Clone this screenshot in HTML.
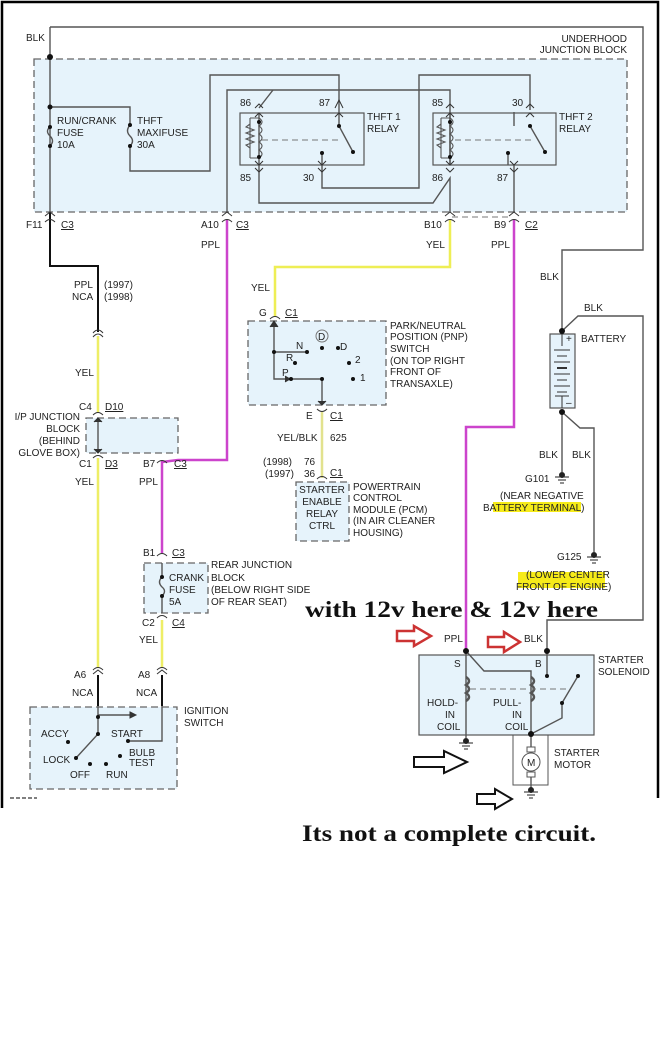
<!DOCTYPE html>
<html><head><meta charset="utf-8"><style>
body{margin:0;background:#fff}
svg{display:block}
text{font-family:"Liberation Sans",sans-serif;font-size:10px;fill:#222}
.u{text-decoration:underline}
.big{font-family:"Liberation Serif",serif;font-weight:bold;font-size:23px;fill:#111}
</style></head><body>
<svg width="660" height="1042" viewBox="0 0 660 1042" xmlns="http://www.w3.org/2000/svg">
<rect width="660" height="1042" fill="#fff"/>
<path d="M2 808 V2 H658 V798" fill="none" stroke="#000" stroke-width="2.5"/>
<line x1="10" y1="798" x2="37" y2="798" stroke="#000" stroke-dasharray="4,2"/>

<g fill="#e6f3fb" stroke="#666" stroke-width="1.3" stroke-dasharray="7,4">
<rect x="34" y="59" width="593" height="153"/>
<rect x="86" y="418" width="92" height="35"/>
<rect x="248" y="321" width="138" height="84"/>
<rect x="296" y="482" width="53" height="59"/>
<rect x="144" y="563" width="64" height="50"/>
<rect x="30" y="707" width="147" height="82"/>
</g>
<g fill="#e6f3fb" stroke="#555" stroke-width="1.2">
<rect x="240" y="113" width="124" height="52"/>
<rect x="433" y="113" width="123" height="52"/>
<rect x="419" y="655" width="175" height="80"/>
<rect x="550" y="334" width="25" height="74"/>
</g>
<rect x="513" y="735" width="35" height="50" fill="none" stroke="#555"/>

<g fill="none" stroke="#555" stroke-width="1.4">
<path d="M50 27 H643 V250 H562 V331"/>
<path d="M50 27 V212"/>
<path d="M50 107 H130 V125"/>
<path d="M130 146 V171 H210 V75 H339 V126"/>
<path d="M227 212 V90 H450 V165"/>
<path d="M273 90 L259 108"/>
<path d="M259 113 V165"/>
<path d="M259 165 V203 H433 L450 178 V212"/>
<path d="M530 110 V75 H419 V188 H322 V153"/>
<path d="M514 126 V112"/>
<path d="M514 165 V212"/>
<path d="M450 113 V165"/>
<path d="M339 126 L353 152"/>
<path d="M530 126 L545 152"/>
<path d="M508 153 V165"/>
<path d="M562 331 L578 316 H643 V620 H547 V676"/>
<path d="M562 412 V472"/>
<path d="M562 412 L580 428 H594 V552"/>
<path d="M466 651 V738"/>
<path d="M466 651 L484 671 H531 V734"/>
<path d="M578 676 L562 703 V718 L531 734 V788"/>
<path d="M274 322 V379 H322 M274 352 H307 M322 379 V405"/>
<path d="M98 706 V734 L76 758 M98 715 H133"/>
<path d="M162 706 V741 H128"/>
<path d="M98 418 V453"/>
<path d="M162 563 V577 M162 596 V613"/>
<path d="M50 127 Q45 131 50 136 Q55 141 50 146"/>
<path d="M130 125 Q125 131 130 136 Q135 141 130 146"/>
<path d="M162 577 Q157 582 162 587 Q167 591 162 596"/>
</g>
<path d="M50 212 V266 H98 V332" fill="none" stroke="#111" stroke-width="2"/>
<path d="M98 675 V706 M162 675 V706" fill="none" stroke="#111" stroke-width="2"/>
<path d="M130 712 L136 715 L130 718Z M94 422 L98 418 L102 422 M94 449 L98 453 L102 449 M270 327 L274 321 L278 327 M318 401 L322 405 L326 401 M285 376 L290 379 L285 382" fill="#333" stroke="#333"/>

<g fill="none" stroke="#555" stroke-width="1.1">
<path d="M259 118 q6 4 0 8 q6 4 0 8 q6 4 0 8 q6 4 0 8 q6 4 0 8"/>
<path d="M250 118 V158 M250 118 H259 M250 158 H259 M250 124 l-4 3 l8 3 l-8 3 l8 3 l-8 3 l8 3 l-8 3 l4 3"/>
<path d="M450 118 q6 4 0 8 q6 4 0 8 q6 4 0 8 q6 4 0 8 q6 4 0 8"/>
<path d="M441 118 V158 M441 118 H450 M441 158 H450 M441 124 l-4 3 l8 3 l-8 3 l8 3 l-8 3 l8 3 l-8 3 l4 3"/>
<path d="M466 677 q6 4 0 8 q6 4 0 8 q6 4 0 8" stroke-width="2.5"/>
<path d="M531 677 q6 4 0 8 q6 4 0 8 q6 4 0 8" stroke-width="2.5"/>
</g>
<g stroke="#777" stroke-dasharray="6,4" fill="none">
<line x1="262" y1="140" x2="340" y2="140"/><line x1="455" y1="140" x2="532" y2="140"/>
<line x1="470" y1="689" x2="566" y2="689"/>
<line x1="452" y1="217" x2="512" y2="217"/>
</g>

<path d="M227 220 V460 H178 L162 462 V553" fill="none" stroke="#cc44cc" stroke-width="2.5"/>
<path d="M514 220 V427 H466 V651" fill="none" stroke="#cc44cc" stroke-width="2.5"/>
<path d="M450 220 V267 H275 V317" fill="none" stroke="#eeee55" stroke-width="2.5"/>
<path d="M98 336 V413 M98 458 V668 M162 620 V668" fill="none" stroke="#eeee66" stroke-width="2.5"/>
<path d="M322 412 V478" fill="none" stroke="#e2e28e" stroke-width="2.5"/>

<g fill="none" stroke="#333" stroke-width="1">
<path d="M45 216 L50 212 L55 216 M45 222 Q50 217 55 222"/>
<path d="M222 216 L227 212 L232 216 M222 222 Q227 217 232 222"/>
<path d="M445 216 L450 212 L455 216 M445 222 Q450 217 455 222"/>
<path d="M509 216 L514 212 L519 216 M509 222 Q514 217 519 222"/>
<path d="M93 333 Q98 327 103 333 M93 337 Q98 331 103 337"/>
<path d="M93 415 Q98 410 103 415 M93 458 Q98 453 103 458"/>
<path d="M157 463 Q162 458 167 463"/>
<path d="M157 556 Q162 551 167 556 M157 618 Q162 613 167 618"/>
<path d="M270 319 Q275 314 280 319 M317 409 Q322 414 327 409"/>
<path d="M317 479 Q322 474 327 479"/>
<path d="M93 670 Q98 665 103 670 M93 674 L98 670 L103 674 M157 670 Q162 665 167 670 M157 674 L162 670 L167 674"/>
<path d="M255 108 L259 104 L263 108 M255 168 L259 172 L263 168 M335 108 L339 100 L343 108 M318 168 L322 172 L326 168 M255 117 L259 113 L263 117 M255 161 L259 165 L263 161 M335 117 L339 113 L343 117 M318 161 L322 165 L326 161"/>
<path d="M446 108 L450 104 L454 108 M446 168 L450 172 L454 168 M526 108 L530 104 L534 108 M510 168 L514 172 L518 168 M446 117 L450 113 L454 117 M446 161 L450 165 L454 161 M526 117 L530 113 L534 117 M510 161 L514 165 L518 161"/>
</g>

<g fill="#111">
<circle cx="50" cy="57" r="3"/><circle cx="50" cy="107" r="2.5"/>
<circle cx="50" cy="127" r="2"/><circle cx="50" cy="146" r="2"/>
<circle cx="130" cy="125" r="2"/><circle cx="130" cy="146" r="2"/>
<circle cx="259" cy="122" r="2"/><circle cx="259" cy="157" r="2"/>
<circle cx="339" cy="126" r="2"/><circle cx="353" cy="152" r="2"/><circle cx="322" cy="153" r="2"/>
<circle cx="450" cy="122" r="2"/><circle cx="450" cy="157" r="2"/>
<circle cx="530" cy="126" r="2"/><circle cx="545" cy="152" r="2"/><circle cx="508" cy="153" r="2"/>
<circle cx="274" cy="352" r="2"/><circle cx="307" cy="352" r="2"/><circle cx="322" cy="348" r="2"/>
<circle cx="338" cy="348" r="2"/><circle cx="295" cy="363" r="2"/><circle cx="349" cy="363" r="2"/>
<circle cx="291" cy="379" r="2"/><circle cx="322" cy="379" r="2"/><circle cx="353" cy="379" r="2"/>
<circle cx="162" cy="577" r="2"/><circle cx="162" cy="596" r="2"/>
<circle cx="98" cy="717" r="2"/><circle cx="98" cy="734" r="2"/><circle cx="68" cy="742" r="2"/>
<circle cx="76" cy="758" r="2"/><circle cx="90" cy="764" r="2"/><circle cx="106" cy="764" r="2"/>
<circle cx="120" cy="756" r="2"/><circle cx="128" cy="741" r="2"/>
<circle cx="562" cy="331" r="3"/><circle cx="562" cy="412" r="3"/>
<circle cx="466" cy="651" r="3"/><circle cx="547" cy="651" r="3"/><circle cx="547" cy="676" r="2"/>
<circle cx="578" cy="676" r="2"/><circle cx="562" cy="703" r="2"/><circle cx="531" cy="734" r="3"/>
</g>
<circle cx="322" cy="336" r="6" fill="none" stroke="#777"/>
<text x="318" y="340" font-size="9">D</text>

<g stroke="#333" stroke-width="1">
<line x1="554" y1="350" x2="570" y2="350"/><line x1="557" y1="356" x2="567" y2="356"/>
<line x1="554" y1="362" x2="570" y2="362"/><line x1="557" y1="368" x2="567" y2="368" stroke-width="2"/>
<line x1="554" y1="374" x2="570" y2="374"/><line x1="557" y1="380" x2="567" y2="380"/>
<line x1="554" y1="386" x2="570" y2="386"/><line x1="557" y1="392" x2="567" y2="392"/>
<line x1="562" y1="334" x2="562" y2="346"/><line x1="562" y1="396" x2="562" y2="408"/>
<line x1="555" y1="396" x2="569" y2="396"/>
</g>
<text x="566" y="342" font-size="8">+</text><text x="566" y="406" font-size="8">–</text>

<g stroke="#222" fill="#222">
<g transform="translate(562,475)"><circle r="2.5"/><line x1="-7" y1="2" x2="7" y2="2"/><line x1="-4" y1="5" x2="4" y2="5"/><line x1="-2" y1="8" x2="2" y2="8"/></g>
<g transform="translate(594,555)"><circle r="2.5"/><line x1="-7" y1="2" x2="7" y2="2"/><line x1="-4" y1="5" x2="4" y2="5"/><line x1="-2" y1="8" x2="2" y2="8"/></g>
<g transform="translate(466,741)"><circle r="2.5"/><line x1="-7" y1="2" x2="7" y2="2"/><line x1="-4" y1="5" x2="4" y2="5"/><line x1="-2" y1="8" x2="2" y2="8"/></g>
<g transform="translate(531,790)"><circle r="2.5"/><line x1="-7" y1="2" x2="7" y2="2"/><line x1="-4" y1="5" x2="4" y2="5"/><line x1="-2" y1="8" x2="2" y2="8"/></g>
</g>
<rect x="527" y="747" width="8" height="5" fill="#fff" stroke="#555"/>
<rect x="527" y="772" width="8" height="5" fill="#fff" stroke="#555"/>
<circle cx="531" cy="762" r="9" fill="#fff" stroke="#555"/>
<text x="527" y="766" font-size="10">M</text>

<rect x="493" y="502" width="88" height="10" fill="#f5e900" opacity="0.9"/>
<rect x="518" y="572" width="87" height="16" fill="#f5e900" opacity="0.9"/>

<text x="26" y="41">BLK</text>
<text x="627" y="42" text-anchor="end">UNDERHOOD</text>
<text x="627" y="53" text-anchor="end">JUNCTION BLOCK</text>
<text x="57" y="124">RUN/CRANK</text><text x="57" y="136">FUSE</text><text x="57" y="148">10A</text>
<text x="137" y="124">THFT</text><text x="137" y="136">MAXIFUSE</text><text x="137" y="148">30A</text>
<text x="240" y="106">86</text><text x="319" y="106">87</text><text x="367" y="120">THFT 1</text><text x="367" y="132">RELAY</text>
<text x="240" y="181">85</text><text x="303" y="181">30</text>
<text x="432" y="106">85</text><text x="512" y="106">30</text><text x="559" y="120">THFT 2</text><text x="559" y="132">RELAY</text>
<text x="432" y="181">86</text><text x="497" y="181">87</text>
<text x="26" y="228">F11</text><text x="61" y="228" class="u">C3</text>
<text x="201" y="228">A10</text><text x="236" y="228" class="u">C3</text>
<text x="424" y="228">B10</text><text x="494" y="228">B9</text><text x="525" y="228" class="u">C2</text>
<text x="201" y="248">PPL</text><text x="426" y="248">YEL</text><text x="491" y="248">PPL</text>
<text x="540" y="280">BLK</text><text x="584" y="311">BLK</text><text x="581" y="342">BATTERY</text>
<text x="74" y="288">PPL</text><text x="72" y="300">NCA</text><text x="104" y="288">(1997)</text><text x="104" y="300">(1998)</text>
<text x="75" y="376">YEL</text>
<text x="79" y="410">C4</text><text x="105" y="410" class="u">D10</text>
<text x="80" y="420" text-anchor="end">I/P JUNCTION</text><text x="80" y="432" text-anchor="end">BLOCK</text>
<text x="80" y="444" text-anchor="end">(BEHIND</text><text x="80" y="456" text-anchor="end">GLOVE BOX)</text>
<text x="79" y="467">C1</text><text x="105" y="467" class="u">D3</text>
<text x="143" y="467">B7</text><text x="174" y="467" class="u">C3</text>
<text x="75" y="485">YEL</text><text x="139" y="485">PPL</text>
<text x="251" y="291">YEL</text>
<text x="259" y="316">G</text><text x="285" y="316" class="u">C1</text>
<text x="296" y="349">N</text><text x="286" y="361">R</text><text x="282" y="376">P</text>
<text x="340" y="350">D</text><text x="355" y="363">2</text><text x="360" y="381">1</text>
<text x="390" y="329">PARK/NEUTRAL</text><text x="390" y="340">POSITION (PNP)</text>
<text x="390" y="352">SWITCH</text><text x="390" y="364">(ON TOP RIGHT</text>
<text x="390" y="375">FRONT OF</text><text x="390" y="387">TRANSAXLE)</text>
<text x="306" y="419">E</text><text x="330" y="419" class="u">C1</text>
<text x="277" y="441">YEL/BLK</text><text x="330" y="441">625</text>
<text x="263" y="465">(1998)</text><text x="304" y="465">76</text>
<text x="265" y="477">(1997)</text><text x="304" y="477">36</text><text x="330" y="476" class="u">C1</text>
<text x="322" y="493" text-anchor="middle">STARTER</text><text x="322" y="505" text-anchor="middle">ENABLE</text>
<text x="322" y="517" text-anchor="middle">RELAY</text><text x="322" y="529" text-anchor="middle">CTRL</text>
<text x="353" y="490">POWERTRAIN</text><text x="353" y="501">CONTROL</text><text x="353" y="513">MODULE (PCM)</text>
<text x="353" y="524">(IN AIR CLEANER</text><text x="353" y="536">HOUSING)</text>
<text x="539" y="458">BLK</text><text x="572" y="458">BLK</text>
<text x="525" y="482">G101</text>
<text x="500" y="499">(NEAR NEGATIVE</text><text x="483" y="511">BATTERY TERMINAL)</text>
<text x="557" y="560">G125</text>
<text x="526" y="578">(LOWER CENTER</text><text x="516" y="590">FRONT OF ENGINE)</text>
<text x="143" y="556">B1</text><text x="172" y="556" class="u">C3</text>
<text x="169" y="581">CRANK</text><text x="169" y="593">FUSE</text><text x="169" y="605">5A</text>
<text x="211" y="568">REAR JUNCTION</text><text x="211" y="581">BLOCK</text>
<text x="211" y="593">(BELOW RIGHT SIDE</text><text x="211" y="605">OF REAR SEAT)</text>
<text x="142" y="626">C2</text><text x="172" y="626" class="u">C4</text>
<text x="139" y="643">YEL</text>
<text x="74" y="678">A6</text><text x="138" y="678">A8</text>
<text x="72" y="696">NCA</text><text x="136" y="696">NCA</text>
<text x="184" y="714">IGNITION</text><text x="184" y="726">SWITCH</text>
<text x="41" y="737">ACCY</text><text x="111" y="737">START</text>
<text x="43" y="763">LOCK</text><text x="129" y="756">BULB</text><text x="129" y="766">TEST</text>
<text x="70" y="778">OFF</text><text x="106" y="778">RUN</text>
<text x="305" y="617" class="big" textLength="293" lengthAdjust="spacingAndGlyphs">with 12v here &amp; 12v here</text>
<text x="444" y="642">PPL</text><text x="524" y="642">BLK</text>
<text x="454" y="667">S</text><text x="535" y="667">B</text>
<text x="598" y="663">STARTER</text><text x="598" y="675">SOLENOID</text>
<text x="427" y="706">HOLD-</text><text x="445" y="718">IN</text><text x="437" y="730">COIL</text>
<text x="493" y="706">PULL-</text><text x="512" y="718">IN</text><text x="505" y="730">COIL</text>
<text x="554" y="756">STARTER</text><text x="554" y="768">MOTOR</text>
<text x="302" y="841" class="big" textLength="294" lengthAdjust="spacingAndGlyphs">Its not a complete circuit.</text>

<path d="M397 631 H414 V626 L431 636 L414 646 V641 H397Z" fill="#fff" stroke="#c33" stroke-width="2.5"/>
<path d="M488 637 H504 V632 L520 642 L504 652 V647 H488Z" fill="#fff" stroke="#c33" stroke-width="2.5"/>
<path d="M414 757 H444 V751 L467 762 L444 773 V767 H414Z" fill="#fff" stroke="#111" stroke-width="2"/>
<path d="M477 794 H495 V789 L512 799 L495 809 V804 H477Z" fill="#fff" stroke="#111" stroke-width="2"/>
</svg>
</body></html>
